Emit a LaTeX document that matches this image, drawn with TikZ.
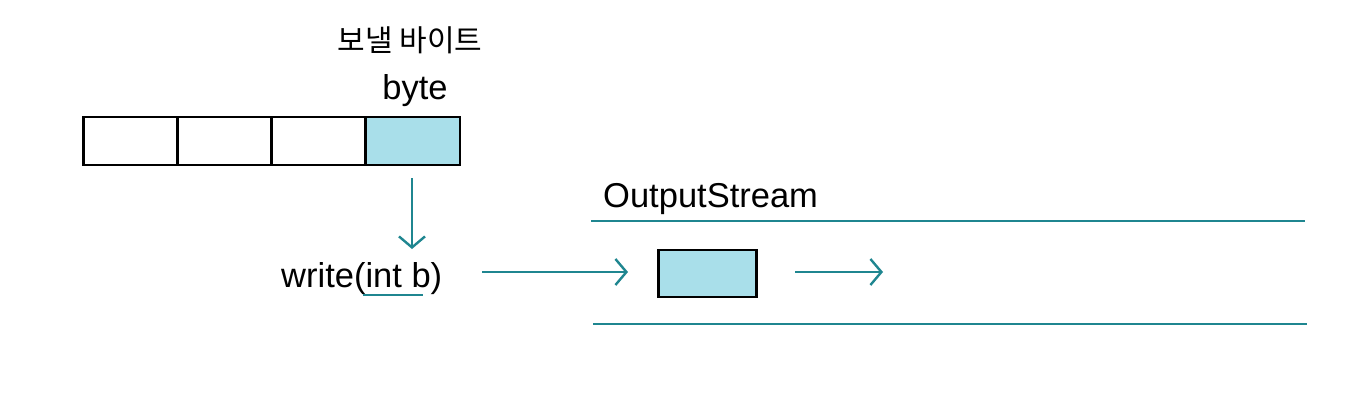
\documentclass[tikz,border=0pt]{standalone}
\usepackage{fontspec}
\setmainfont{Liberation Sans}
\newfontfamily\kr{Noto Sans CJK KR}
\usetikzlibrary{arrows.meta}
\definecolor{teal1}{HTML}{1F8690}
\definecolor{cyanfill}{HTML}{A9DFEA}
\tikzset{
  cell/.style={draw=black, line width=2.6pt, minimum width=94pt, minimum height=48pt, inner sep=0pt, outer sep=0pt},
  flow/.style={draw=teal1, line width=2.4pt, -{Straight Barb[length=11pt,width=26pt,line width=2.4pt]}},
  rail/.style={draw=teal1, line width=2.8pt},
  lbl/.style={inner sep=0pt, font=\fontsize{34.5}{38}\selectfont}
}
\begin{document}
\begin{tikzpicture}[x=1pt,y=-1pt]
\useasboundingbox (0,0) rectangle (1370,410);
% byte cells
\node[cell] (c1) at (130.5,141) {};
\node[cell] (c2) at (224.5,141) {};
\node[cell] (c3) at (318.5,141) {};
\node[cell, fill=cyanfill] (c4) at (413,141) {};
% labels
\node[lbl, font=\kr\fontsize{30}{33}\selectfont] (kor) at (410,40) {보낼 바이트};
\node[lbl, anchor=base] (byte) at (415,99) {byte};
\node[lbl, anchor=base west] (write) at (281,287) {write(int b)};
\node[lbl, anchor=base west] (os) at (603,207) {OutputStream};
% underline under "int b"
\coordinate (u1) at (363,295);
\coordinate (u2) at (423,295);
\draw[rail] (u1) -- (u2);
% arrow down
\coordinate (d1) at (412,178);
\coordinate (d2) at (412,249);
\draw[flow] (d1) -- (d2);
% stream rails
\coordinate (r1) at (591,221);
\coordinate (r2) at (1305,221);
\coordinate (r3) at (593,324);
\coordinate (r4) at (1307,324);
\draw[rail] (r1) -- (r2);
\draw[rail] (r3) -- (r4);
% packet
\node[draw=black, line width=2.8pt, fill=cyanfill, minimum width=98pt, minimum height=47pt, inner sep=0pt] (pkt) at (707.5,273.5) {};
% horizontal arrows
\coordinate (a1) at (482,272);
\coordinate (a2) at (628,272);
\coordinate (a3) at (795,272);
\coordinate (a4) at (883,272);
\draw[flow] (a1) -- (a2);
\draw[flow] (a3) -- (a4);
\end{tikzpicture}
\end{document}
